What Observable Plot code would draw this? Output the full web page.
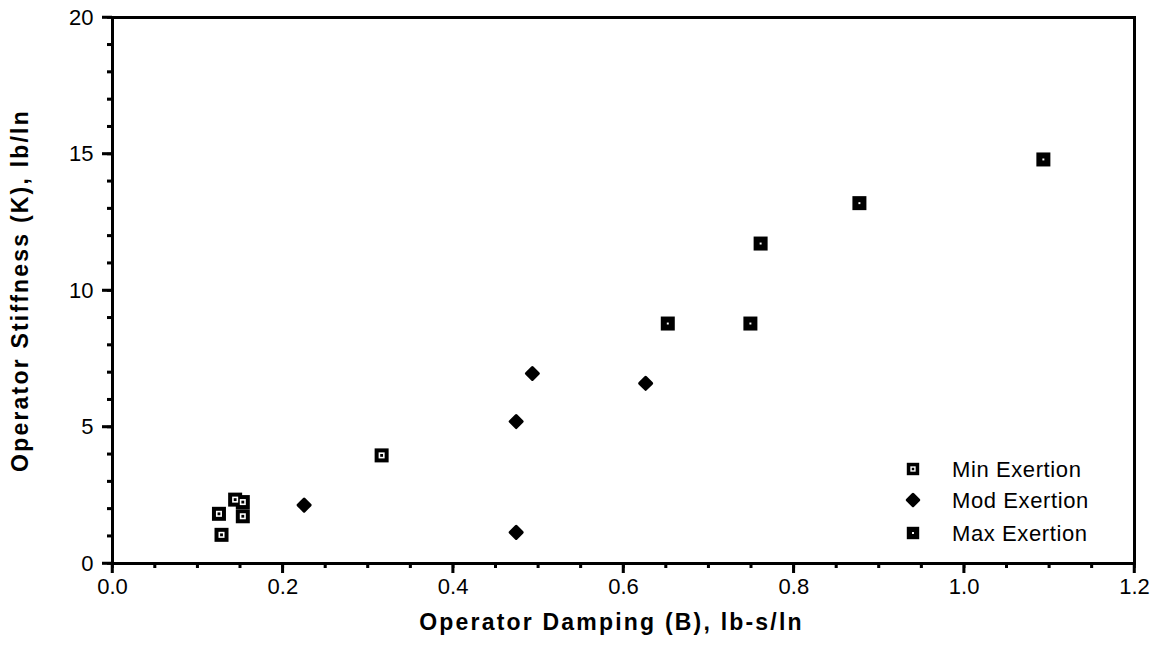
<!DOCTYPE html>
<html><head><meta charset="utf-8">
<script src="https://cdn.jsdelivr.net/npm/d3@7"></script>
<script src="https://cdn.jsdelivr.net/npm/@observablehq/plot@0.6"></script>
<style>
body{margin:0;background:#fff;}
#wrap{position:relative;width:1159px;height:651px;}
#wrap svg{background:#fff;color:#000;font-family:'Liberation Sans', Arial, Helvetica, sans-serif;font-size:22px;}
</style></head><body><div id="wrap"></div>
<script>
// Data
const minB = [0.125, 0.128, 0.144, 0.153, 0.153, 0.316];
const minK = [1.82, 1.05, 2.34, 2.25, 1.73, 3.96];
const modB = [0.225, 0.474, 0.474, 0.493, 0.626];
const modK = [2.14, 1.14, 5.20, 6.96, 6.60];
const maxB = [0.652, 0.749, 0.761, 0.877, 1.093];
const maxK = [8.79, 8.79, 11.72, 13.20, 14.80];
const seriesNames = ["Min Exertion", "Mod Exertion", "Max Exertion"];
const xTicks = [0, 0.2, 0.4, 0.6, 0.8, 1.0, 1.2];
const xMinorTicks = [0,0.05,0.1,0.15,0.2,0.25,0.3,0.35,0.4,0.45,0.5,0.55,0.6,0.65,0.7,0.75,0.8,0.85,0.9,0.95,1.0,1.05,1.1,1.15,1.2];
const yTicks = [0, 5, 10, 15, 20];
const yMinorTicks = [0,1,2,3,4,5,6,7,8,9,10,11,12,13,14,15,16,17,18,19,20];
const xTitle = "Operator Damping (B), lb-s/ln";
const yTitle = "Operator Stiffness (K), lb/ln";

const minData = minB.map((b,i)=>({b, k:minK[i]}));
const modData = modB.map((b,i)=>({b, k:modK[i]}));
const maxData = maxB.map((b,i)=>({b, k:maxK[i]}));

const W = 1159, H = 651, mL = 112, mR = 25, mT = 17, mB = 88;
const font = "'Liberation Sans', Arial, Helvetica, sans-serif";
const chart = Plot.plot({
  width: W, height: H,
  marginLeft: mL, marginRight: mR, marginTop: mT, marginBottom: mB,
  x: {domain: [0, 1.2]},
  y: {domain: [0, 20]},
  marks: [
    Plot.axisX({ticks: xMinorTicks, tickSize: 5, tickFormat: () => "", label: null, stroke: "black", strokeWidth: 2.5}),
    Plot.axisX({ticks: xTicks, tickSize: 10, tickPadding: 5, tickFormat: d3.format(".1f"), label: null, fontSize: 22, stroke: "black", strokeWidth: 2.5}),
    Plot.axisY({ticks: yMinorTicks, tickSize: 5, tickFormat: () => "", label: null, stroke: "black", strokeWidth: 2.5}),
    Plot.axisY({ticks: yTicks, tickSize: 10, tickPadding: 9, tickFormat: d3.format("d"), label: null, fontSize: 22, stroke: "black", strokeWidth: 2.5}),
    Plot.frame({stroke: "black", strokeWidth: 3}),
    Plot.text([xTitle], {frameAnchor: "bottom", dx: -12, dy: 66, lineAnchor: "bottom", textAnchor: "middle", fontWeight: "bold", fontSize: 23}),
    Plot.text([yTitle], {frameAnchor: "left", dx: -101, rotate: -90, lineAnchor: "top", textAnchor: "middle", fontWeight: "bold", fontSize: 23}),
    Plot.dot(minData, {x: "b", y: "k", symbol: "square", r: 7.9, fill: "black"}),
    Plot.dot(minData, {x: "b", y: "k", symbol: "square", r: 3.4, fill: "white"}),
    Plot.dot(minData, {x: "b", y: "k", symbol: "square", r: 1.6, fill: "black"}),
    Plot.dot(modData, {x: "b", y: "k", symbol: "diamond2", r: 5.4, fill: "black", stroke: "black", strokeWidth: 3, strokeLinejoin: "round"}),
    Plot.dot(maxData, {x: "b", y: "k", symbol: "square", r: 7.9, fill: "black"}),
    Plot.dot(maxData, {x: "b", y: "k", symbol: "square", r: 1.1, fill: "white"})
  ]
});
document.getElementById("wrap").appendChild(chart);

const svg = d3.select(chart);
svg.selectAll("text").filter(function(){ return this.textContent === xTitle || this.textContent === yTitle; }).attr("letter-spacing", "2.2px");

// Extra tick lines through Plot's own scales (safety: guarantees visible ticks)
const sx = chart.scale("x"), sy = chart.scale("y");
const tg = svg.append("g").attr("stroke", "#000").attr("stroke-width", 2.5);
const x0 = sx.apply(0), y0 = sy.apply(0);
xMinorTicks.forEach(v => tg.append("line").attr("x1", sx.apply(v)).attr("x2", sx.apply(v)).attr("y1", y0).attr("y2", y0 + (xTicks.some(t => Math.abs(t - v) < 1e-9) ? 10 : 5)));
yMinorTicks.forEach(v => tg.append("line").attr("y1", sy.apply(v)).attr("y2", sy.apply(v)).attr("x1", x0).attr("x2", x0 - (yTicks.includes(v) ? 10 : 5)));

// Legend drawn into the same SVG
const lg = svg.append("g").attr("font-family", font).attr("font-size", 22).attr("text-anchor", "start");
const legendY = [469, 500, 533];
const sym = (type, r) => d3.symbol(type, Math.PI * r * r)();
seriesNames.forEach((name, i) => {
  const g = lg.append("g").attr("transform", `translate(913,${legendY[i]})`);
  if (i === 0) {
    g.append("path").attr("d", sym(d3.symbolSquare, 7)).attr("fill", "black");
    g.append("path").attr("d", sym(d3.symbolSquare, 3)).attr("fill", "white");
    g.append("path").attr("d", sym(d3.symbolSquare, 1.4)).attr("fill", "black");
  } else if (i === 1) {
    g.append("path").attr("d", sym(d3.symbolDiamond2, 5.2)).attr("fill", "black").attr("stroke", "black").attr("stroke-width", 3).attr("stroke-linejoin", "round");
  } else {
    g.append("path").attr("d", sym(d3.symbolSquare, 7)).attr("fill", "black");
    g.append("path").attr("d", sym(d3.symbolSquare, 1.1)).attr("fill", "white");
  }
  lg.append("text").attr("x", 952).attr("y", legendY[i]).attr("dy", "0.36em").attr("letter-spacing", "0.6px").text(name);
});
</script>
</body></html>
